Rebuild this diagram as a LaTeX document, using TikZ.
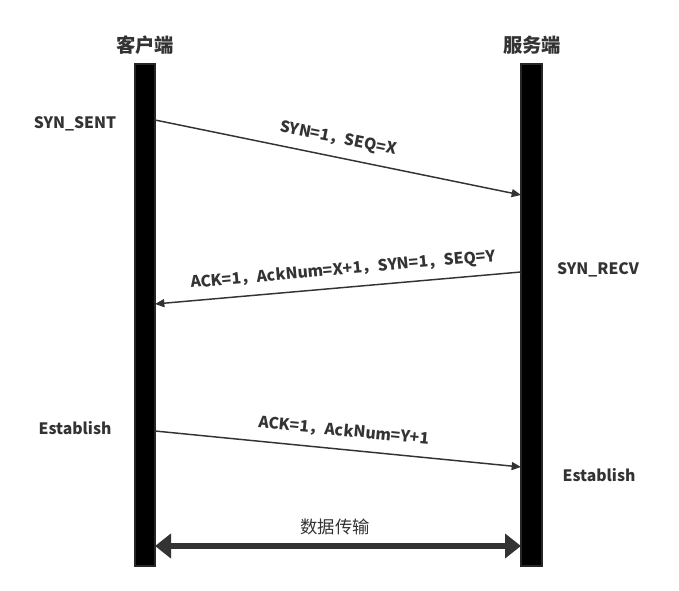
\documentclass[tikz,border=0pt]{standalone}
\usepackage{fontspec}
\setmainfont{Noto Sans CJK SC}
\usetikzlibrary{arrows.meta}
\definecolor{txt}{HTML}{333333}
\tikzset{
  pillar/.style={draw=black!85, fill=black, line width=1pt},
  msg/.style={draw=txt, line width=1.1pt, -{Triangle[length=7pt,width=6pt]}},
  lbl/.style={text=txt, font=\bfseries\fontsize{11.8pt}{13pt}\selectfont, inner sep=1pt},
  head/.style={text=txt, font=\bfseries\fontsize{14.5pt}{16pt}\selectfont},
  data/.style={draw=txt, line width=5pt, {Triangle[length=12pt,width=18pt]}-{Triangle[length=12pt,width=18pt]}},
}
\begin{document}
\begin{tikzpicture}[x=0.75pt,y=-0.75pt]
\useasboundingbox (0,0) rectangle (679,591);
% pillars
\path[pillar] (135,64) rectangle (155,566);
\path[pillar] (521,64) rectangle (542,566);
% headers
\node[head] (client) at (145,45) {客户端};
\node[head] (server) at (532,45) {服务端};
% states
\node[lbl] (s1) at (75,124) {SYN\_SENT};
\node[lbl] (s2) at (598,270) {SYN\_RECV};
\node[lbl] (s3) at (75,428) {Establish};
\node[lbl] (s4) at (599,475) {Establish};
% message endpoints
\coordinate (a1) at (155,120);
\coordinate (b1) at (521,195);
\coordinate (a2) at (521,272);
\coordinate (b2) at (155,304);
\coordinate (a3) at (155,431);
\coordinate (b3) at (521,467);
\coordinate (d1) at (155,546);
\coordinate (d2) at (521,546);
\draw[msg] (a1) -- (b1);
\draw[msg] (a2) -- (b2);
\draw[msg] (a3) -- (b3);
\node[lbl, rotate=-11.5] (m1) at (338,139) {SYN=1，SEQ=X};
\node[lbl, rotate=5] (m2) at (343,270) {ACK=1，AckNum=X+1，SYN=1，SEQ=Y};
\node[lbl, rotate=-5.5] (m3) at (344,431) {ACK=1，AckNum=Y+1};
\draw[data] (d1) -- (d2);
\node[text=txt, font=\fontsize{13pt}{15pt}\selectfont] (dt) at (335,527) {数据传输};
\end{tikzpicture}
\end{document}
